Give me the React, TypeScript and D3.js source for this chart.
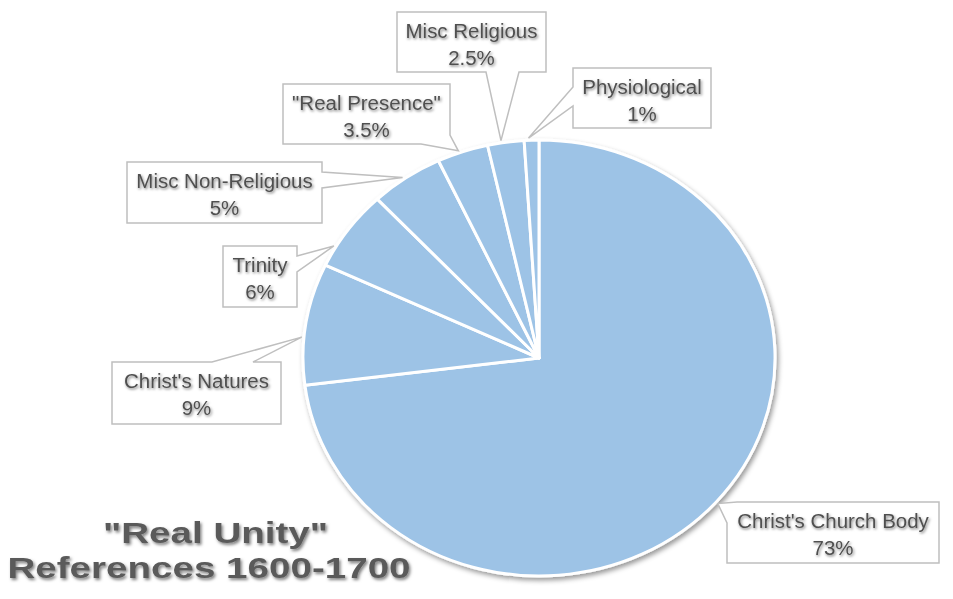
import React from "react";
import * as d3 from "d3";

// Share of "Real Unity" references by topic, clockwise from 12 o'clock
const categories = [
  "Christ's Church Body",
  "Christ's Natures",
  "Trinity",
  "Misc Non-Religious",
  "\"Real Presence\"",
  "Misc Religious",
  "Physiological",
];
const shares = [73, 9, 6, 5, 3.5, 2.5, 1];
const titleLines = ["\"Real Unity\"", "References 1600-1700"];

// Callout boxes: [x, y, w, h], the two points on the box edge where the pointer starts,
// and where inside its slice (fraction of the slice's sweep) each pointer lands
type Side = "top" | "right" | "bottom" | "left";
const calloutBoxes: [number, number, number, number][] = [
  [727, 502, 212, 61],
  [112, 362, 169, 62],
  [223, 246, 74, 61],
  [127, 162, 195, 61],
  [283, 84, 167, 60],
  [397, 12, 149, 60],
  [573, 68, 138, 60],
];
const pointerBases: [[Side, number], [Side, number]][] = [
  [["left", 21], ["top", 10]],
  [["top", 100], ["top", 141]],
  [["right", 10], ["right", 26]],
  [["right", 10], ["right", 26]],
  [["bottom", 138], ["right", 51]],
  [["bottom", 89], ["bottom", 122]],
  [["left", 19], ["left", 38]],
];
const pointerSweep = [0.5, 0.39, 0.25, 0.46, 0.43, 0.38, 0.3];

const W = 953;
const H = 599;
const CX = 539;
const CY = 358;
const RX = 236;
const RY = 218;

function perimeterPos(w: number, h: number, side: Side, off: number): number {
  if (side === "top") return off;
  if (side === "right") return w + off;
  if (side === "bottom") return w + h + (w - off);
  return 2 * w + h + (h - off);
}

function perimeterPoint(x: number, y: number, w: number, h: number, s: number): [number, number] {
  const P = 2 * w + 2 * h;
  s = ((s % P) + P) % P;
  if (s < w) return [x + s, y];
  if (s < w + h) return [x + w, y + (s - w)];
  if (s < 2 * w + h) return [x + w - (s - w - h), y + h];
  return [x, y + h - (s - 2 * w - h)];
}

function calloutPath(
  box: [number, number, number, number],
  bases: [[Side, number], [Side, number]],
  tip: [number, number]
): string {
  const [x, y, w, h] = box;
  const P = 2 * w + 2 * h;
  let s1 = perimeterPos(w, h, bases[0][0], bases[0][1]);
  let s2 = perimeterPos(w, h, bases[1][0], bases[1][1]);
  if (((s2 - s1 + P) % P) > P / 2) [s1, s2] = [s2, s1];
  // walk clockwise from s2 around the box back to s1
  const corners = [0, w, w + h, 2 * w + h];
  let end = s1;
  while (end <= s2) end += P;
  const pts: [number, number][] = [perimeterPoint(x, y, w, h, s2)];
  for (let k = 0; k < 3; k++) {
    for (const c of corners) {
      const cc = c + k * P;
      if (cc > s2 && cc < end) pts.push(perimeterPoint(x, y, w, h, cc));
    }
  }
  pts.push(perimeterPoint(x, y, w, h, end));
  pts.push(tip);
  const p = d3.path();
  pts.forEach((pt, i) => (i === 0 ? p.moveTo(pt[0], pt[1]) : p.lineTo(pt[0], pt[1])));
  p.closePath();
  return p.toString();
}

export default function App() {
  const pie = d3
    .pie<number>()
    .sort(null)
    .value((d) => d)
    .startAngle(0)
    .endAngle(2 * Math.PI);
  const arcs = pie(shares);
  const arcGen = d3.arc<d3.PieArcDatum<number>>().innerRadius(0).outerRadius(1);
  const fmt = d3.format("");
  const font = "'Liberation Sans', Arial, sans-serif";

  return (
    <svg
      width={W}
      height={H}
      viewBox={`0 0 ${W} ${H}`}
      style={{ position: "absolute", left: 0, top: 0, display: "block", background: "#ffffff" }}
    >
      <defs>
        <filter id="pieShadow" x="-10%" y="-10%" width="120%" height="120%">
          <feDropShadow dx="2" dy="3" stdDeviation="2.5" floodColor="#000" floodOpacity="0.4" />
        </filter>
        <filter id="textShadow" x="-10%" y="-30%" width="120%" height="160%">
          <feGaussianBlur in="SourceGraphic" stdDeviation="0.5" result="soft" />
          <feDropShadow in="soft" dx="1" dy="1.5" stdDeviation="1.3" floodColor="#000" floodOpacity="0.5" />
        </filter>
        <filter id="titleShadow" x="-10%" y="-30%" width="120%" height="160%">
          <feGaussianBlur in="SourceGraphic" stdDeviation="0.6" result="soft" />
          <feDropShadow in="soft" dx="1.5" dy="2" stdDeviation="1.8" floodColor="#000" floodOpacity="0.5" />
        </filter>
      </defs>

      <g filter="url(#pieShadow)">
        <g transform={`translate(${CX},${CY}) scale(${RX},${RY})`}>
          {arcs.map((a, i) => (
            <path
              key={categories[i]}
              d={arcGen(a) || ""}
              fill="#9dc3e6"
              stroke="#ffffff"
              strokeWidth={3}
              strokeLinejoin="round"
              vectorEffect="non-scaling-stroke"
            />
          ))}
        </g>
      </g>

      {arcs.map((a, i) => {
        const ang = a.startAngle + (a.endAngle - a.startAngle) * pointerSweep[i];
        const tip: [number, number] = [CX + RX * 1.01 * Math.sin(ang), CY - RY * 1.01 * Math.cos(ang)];
        const box = calloutBoxes[i];
        const [bx, by, bw] = box;
        return (
          <g key={"label-" + categories[i]}>
            <path d={calloutPath(box, pointerBases[i], tip)} fill="#ffffff" stroke="#bfbfbf" strokeWidth={1.5} />
            <g
              filter="url(#textShadow)"
              fontFamily={font}
              fontSize={19.5}
              fill="#4f4f4f"
              textAnchor="middle"
              transform={`translate(${bx + bw / 2},${by}) scale(1.05,1)`}
            >
              <text x={0} y={26}>{categories[i]}</text>
              <text x={0} y={53}>{fmt(shares[i]) + "%"}</text>
            </g>
          </g>
        );
      })}

      <g filter="url(#titleShadow)" fontFamily={font} fontWeight="bold" fill="#5a5a5a" fontSize={30} textAnchor="middle">
        <g transform="translate(215.5,543) scale(1.286,1)">
          <text x={0} y={0}>{titleLines[0]}</text>
        </g>
        <g transform="translate(209,578) scale(1.286,1)">
          <text x={0} y={0}>{titleLines[1]}</text>
        </g>
      </g>
    </svg>
  );
}
